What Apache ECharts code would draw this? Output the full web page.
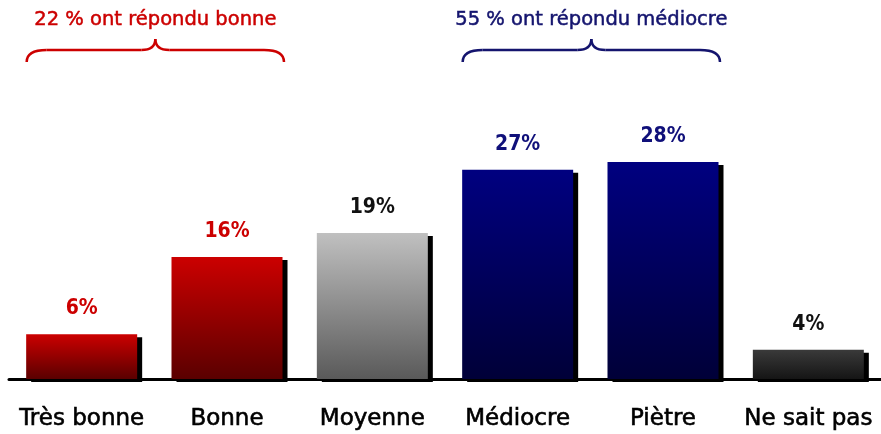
<!DOCTYPE html>
<html><head><meta charset="utf-8">
<script src="https://cdn.jsdelivr.net/npm/echarts@6/dist/echarts.min.js"></script>
<style>html,body{margin:0;padding:0;background:#fff}#c{width:881px;height:434px}</style>
</head><body><div id="c"></div>
<script>
var categories = ['Très bonne', 'Bonne', 'Moyenne', 'Médiocre', 'Piètre', 'Ne sait pas'];
var values = [5.8, 15.8, 18.9, 27.1, 28.1, 3.8];
var topColors = ['#cc0000', '#cc0000', '#c0c0c0', '#000080', '#000080', '#3a3a3a'];
var bottomColors = ['#5a0000', '#5a0000', '#5a5a5a', '#000038', '#000038', '#151515'];
var labelColors = ['#cc0000', '#cc0000', '#111111', '#10107a', '#10107a', '#111111'];
var groupTexts = ['22 % ont répondu bonne', '55 % ont répondu médiocre'];
var groupColors = ['#cc0000', '#14146e'];
var groupRanges = [[0, 1], [3, 4]];

var FONT = '"DejaVu Sans", "Liberation Sans", sans-serif';
var FONT_C = '"DejaVu Sans Condensed", "DejaVu Sans", sans-serif';
var chart = echarts.init(document.getElementById('c'));
var dataItems = values.map(function (v, i) {
  return {
    value: v,
    itemStyle: {
      color: new echarts.graphic.LinearGradient(0, 0, 0, 1, [
        { offset: 0, color: topColors[i] }, { offset: 1, color: bottomColors[i] }]),
      shadowColor: '#000', shadowBlur: 0, shadowOffsetX: 5, shadowOffsetY: 3
    },
    label: { color: labelColors[i] }
  };
});
chart.setOption({
  animation: false,
  grid: { left: 9, right: -2, top: 70, bottom: 55 },
  xAxis: {
    type: 'category', data: categories,
    axisLine: { lineStyle: { color: '#000', width: 3 } },
    axisTick: { show: false },
    axisLabel: { color: '#000', fontSize: 23, fontWeight: 'normal', fontFamily: FONT, margin: 29, interval: 0,
      textBorderColor: '#000', textBorderWidth: 0.6 }
  },
  yAxis: { type: 'value', min: 0, max: 40, show: false, splitLine: { show: false } },
  series: [{
    type: 'bar', barWidth: 111, data: dataItems,
    label: {
      show: true, position: 'top', distance: 15, fontSize: 21, fontWeight: 'bold', fontFamily: FONT_C,
      formatter: function (p) { return Math.round(p.value) + '%'; }
    }
  }]
});

function drawBraces() {
  var els = [];
  groupRanges.forEach(function (r, g) {
    var a = chart.convertToPixel({ xAxisIndex: 0 }, r[0]);
    var b = chart.convertToPixel({ xAxisIndex: 0 }, r[1]);
    var x0 = a - 55, x1 = b + 57, xc = (x0 + x1) / 2, y0 = 50;
    var st = { stroke: groupColors[g], lineWidth: 2.5, fill: null };
    var segs = [
      { x1: x0, y1: y0 + 12, cpx1: x0, cpy1: y0, x2: x0 + 20, y2: y0 },
      { x1: xc - 14, y1: y0, cpx1: xc, cpy1: y0, x2: xc, y2: y0 - 11 },
      { x1: xc, y1: y0 - 11, cpx1: xc, cpy1: y0, x2: xc + 14, y2: y0 },
      { x1: x1 - 20, y1: y0, cpx1: x1, cpy1: y0, x2: x1, y2: y0 + 12 }
    ];
    segs.forEach(function (s) { els.push({ type: 'bezierCurve', shape: s, style: st }); });
    els.push({ type: 'line', shape: { x1: x0 + 20, y1: y0, x2: xc - 14, y2: y0 }, style: st });
    els.push({ type: 'line', shape: { x1: xc + 14, y1: y0, x2: x1 - 20, y2: y0 }, style: st });
    els.push({ type: 'text', x: xc, y: 20, style: { text: groupTexts[g], fill: groupColors[g], fontSize: 19.5,
      fontWeight: 'normal', fontFamily: FONT, textAlign: 'center', textVerticalAlign: 'middle',
      stroke: groupColors[g], lineWidth: 0.5 } });
  });
  chart.setOption({ graphic: els });
}
drawBraces();
</script></body></html>
